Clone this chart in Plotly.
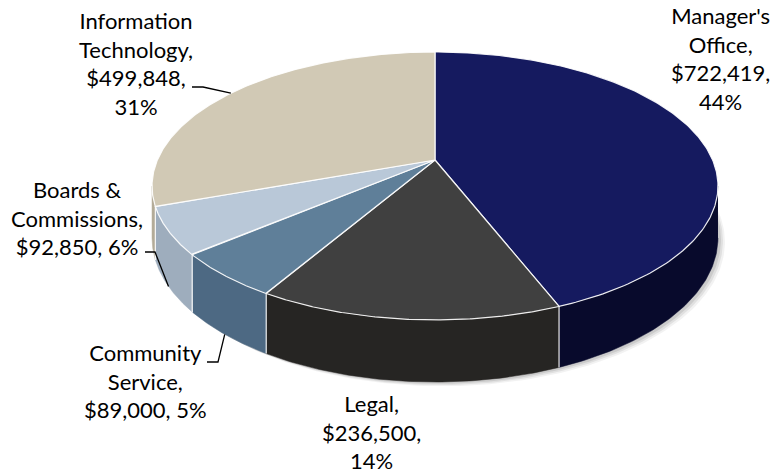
import textwrap
import numpy as np
import plotly.graph_objects as go

# ---- data ----
categories = ["Manager's Office", "Legal", "Community Service",
              "Boards & Commissions", "Information Technology"]
amounts = [722419, 236500, 89000, 92850, 499848]
percent_labels = [44, 14, 5, 6, 31]

# ---- styles ----
top_colors = ["#151a5f", "#404040", "#5f7f99", "#b9c8d8", "#d1c9b5"]
wall_colors = ["#080a2c", "#262523", "#4d6983", "#9eadbd", "#b3ab98"]
font_family = "Lato"
font_size = 22

# label layout: centre of text block, wrap width (chars), leader elbow (x0, x1, y)
label_layout = {
    "Manager's Office": dict(x=720, y=58, wrap=10, leader=None, anchor_drop=False),
    "Legal": dict(x=371, y=432, wrap=9, leader=None, anchor_drop=False),
    "Community Service": dict(x=145, y=381, wrap=11, leader=(207, 218, 362), anchor_drop=True),
    "Boards & Commissions": dict(x=77, y=218, wrap=12, leader=(145, 155, 252), anchor_drop=True),
    "Information Technology": dict(x=136, y=63, wrap=11, leader=(192, 203, 87), anchor_drop=False),
}

# ---- 3D pie projection (perspective view of a tilted disc) ----
CX, CY = 435.0, 160.0        # projected centre of the disc
PERSP = 0.194                # perspective strength
YK = -97.9                   # vertical scale of the disc
XK = 277.6                   # horizontal scale of the disc
DEPTH = 50.0                 # thickness of the disc


def project(theta_deg, drop=0.0):
    t = np.radians(np.asarray(theta_deg, dtype=float))
    u, v = np.sin(t), np.cos(t)
    den = 1 + PERSP * v
    x = CX + XK * u / den
    y = (CY + YK * v) / den + drop / den
    return x, y


total = float(sum(amounts))
fractions = [a / total for a in amounts]
edges = np.concatenate([[0.0], np.cumsum(fractions) * 360.0])

# silhouette angles: outer wall visible between these (through the front)
sil = np.degrees(np.arccos(-PERSP))
vis_lo, vis_hi = sil, 360.0 - sil

fig = go.Figure()

# soft shadow under the disc
full = np.linspace(0, 360, 361)
for off, alpha in [(7, 0.05), (5, 0.07), (3, 0.09)]:
    sx, sy = project(full, DEPTH)
    fig.add_trace(go.Scatter(x=sx + off, y=sy + off * 0.6, mode="lines", fill="toself",
                             fillcolor=f"rgba(0,0,0,{alpha})", line=dict(width=0),
                             hoverinfo="skip", showlegend=False))

# outer walls (front half only)
for i, cat in enumerate(categories):
    a0, a1 = max(edges[i], vis_lo), min(edges[i + 1], vis_hi)
    if a1 <= a0:
        continue
    th = np.linspace(a0, a1, 80)
    tx, ty = project(th)
    bx, by = project(th[::-1], DEPTH)
    fig.add_trace(go.Scatter(x=np.concatenate([tx, bx]), y=np.concatenate([ty, by]),
                             mode="lines", fill="toself", fillcolor=wall_colors[i],
                             line=dict(width=0.5, color=wall_colors[i]),
                             hoverinfo="skip", showlegend=False))

# white seams on the wall at slice boundaries
for e in edges[1:-1]:
    if vis_lo < e < vis_hi:
        x0, y0 = project(e)
        x1, y1 = project(e, DEPTH)
        fig.add_trace(go.Scatter(x=[x0, x1], y=[y0, y1], mode="lines",
                                 line=dict(color="rgba(255,255,255,0.9)", width=1.2),
                                 hoverinfo="skip", showlegend=False))

# top faces
for i, cat in enumerate(categories):
    th = np.linspace(edges[i], edges[i + 1], 200)
    ax, ay = project(th)
    fig.add_trace(go.Scatter(x=np.concatenate([[CX], ax, [CX]]),
                             y=np.concatenate([[CY], ay, [CY]]),
                             mode="lines", fill="toself", fillcolor=top_colors[i],
                             line=dict(color="rgba(255,255,255,0.9)", width=1.2),
                             name=cat, hoverinfo="skip", showlegend=False))

# data labels and leader lines
annotations = []
for i, cat in enumerate(categories):
    lay = label_layout[cat]
    full_text = f"{cat}, ${amounts[i]:,}, {percent_labels[i]}%"
    lines = textwrap.wrap(full_text, width=lay["wrap"])
    annotations.append(dict(x=lay["x"], y=lay["y"], xref="x", yref="y",
                            text="<br>".join(lines), showarrow=False,
                            xanchor="center", yanchor="middle", align="center",
                            font=dict(family=font_family, size=font_size, color="#000000")))
    if lay["leader"] is not None:
        mid = (edges[i] + edges[i + 1]) / 2
        px, py = project(mid, DEPTH if lay["anchor_drop"] else 0.0)
        x0, x1, ly = lay["leader"]
        fig.add_trace(go.Scatter(x=[x0, x1, float(px)], y=[ly, ly, float(py)], mode="lines",
                                 line=dict(color="#000000", width=1.3),
                                 hoverinfo="skip", showlegend=False))

fig.update_layout(
    width=774, height=473,
    margin=dict(l=0, r=0, t=0, b=0),
    paper_bgcolor="white", plot_bgcolor="white",
    xaxis=dict(range=[0, 774], visible=False, fixedrange=True),
    yaxis=dict(range=[473, 0], visible=False, fixedrange=True),
    annotations=annotations,
    showlegend=False,
)

fig.write_html("out.html")
